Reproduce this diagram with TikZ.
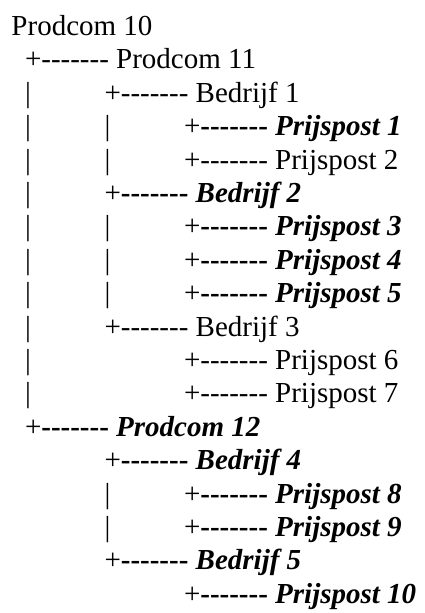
\documentclass[tikz,border=0pt]{standalone}
\usepackage{fontspec}
% a family without TeX ligatures, so runs of hyphens stay hyphens
\newfontfamily\treefont{Liberation Serif}
\newcommand\br{+-------\ }
\newcommand\brb{+{\bfseries-------\ }}
\newcommand\hi[1]{{\bfseries\itshape #1}}
\tikzset{
  treetext/.style={anchor=base west, inner sep=0pt, outer sep=0pt,
    font=\treefont\fontsize{29}{33}\selectfont}
}
% one text row: name, column x (pt), line number, content
\newcommand\trow[4]{\node[treetext] (#1) at (#2pt,{577.5pt-33.4pt*#3}) {#4};}
% one vertical guide bar: name, column x (pt), line number
\newcommand\tbar[3]{\node[treetext] (#1) at (#2pt,{577.5pt-33.4pt*#3}) {|};}
\begin{document}
\begin{tikzpicture}
\useasboundingbox (0,0) rectangle (424pt,613pt);
\trow{pc10}{11.5}{0}{Prodcom 10}
\trow{pc11}{25}{1}{\br Prodcom 11}
\tbar{b2a}{25}{2}
\trow{bd1}{104.5}{2}{\br Bedrijf 1}
\tbar{b3a}{25}{3}\tbar{b3b}{104.5}{3}
\trow{pp1}{184}{3}{\brb\hi{Prijspost 1}}
\tbar{b4a}{25}{4}\tbar{b4b}{104.5}{4}
\trow{pp2}{184}{4}{\br Prijspost 2}
\tbar{b5a}{25}{5}
\trow{bd2}{104.5}{5}{\brb\hi{Bedrijf 2}}
\tbar{b6a}{25}{6}\tbar{b6b}{104.5}{6}
\trow{pp3}{184}{6}{\brb\hi{Prijspost 3}}
\tbar{b7a}{25}{7}\tbar{b7b}{104.5}{7}
\trow{pp4}{184}{7}{\brb\hi{Prijspost 4}}
\tbar{b8a}{25}{8}\tbar{b8b}{104.5}{8}
\trow{pp5}{184}{8}{\brb\hi{Prijspost 5}}
\tbar{b9a}{25}{9}
\trow{bd3}{104.5}{9}{\br Bedrijf 3}
\tbar{b10a}{25}{10}
\trow{pp6}{184}{10}{\br Prijspost 6}
\tbar{b11a}{25}{11}
\trow{pp7}{184}{11}{\br Prijspost 7}
\trow{pc12}{25}{12}{\brb\hi{Prodcom 12}}
\trow{bd4}{104.5}{13}{\brb\hi{Bedrijf 4}}
\tbar{b14b}{104.5}{14}
\trow{pp8}{184}{14}{\brb\hi{Prijspost 8}}
\tbar{b15b}{104.5}{15}
\trow{pp9}{184}{15}{\brb\hi{Prijspost 9}}
\trow{bd5}{104.5}{16}{\brb\hi{Bedrijf 5}}
\trow{pp10}{184}{17}{\brb\hi{Prijspost 10}}
\end{tikzpicture}
\end{document}
